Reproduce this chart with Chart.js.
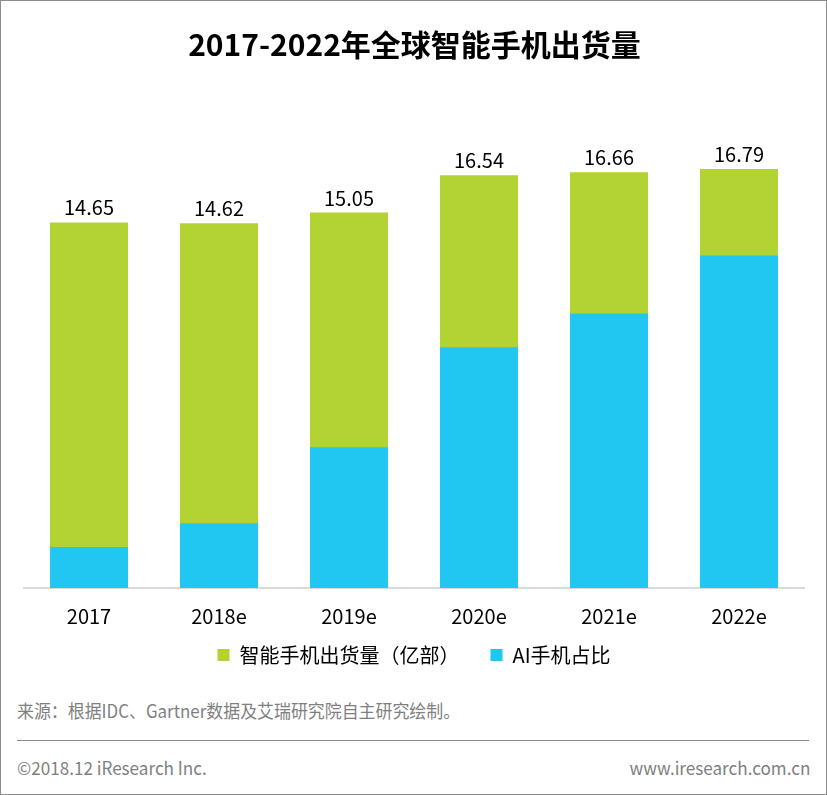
<!DOCTYPE html>
<html>
<head>
<meta charset="utf-8">
<script src="https://cdn.jsdelivr.net/npm/chart.js@4/dist/chart.umd.min.js"></script>
<style>
  html, body { margin: 0; padding: 0; background: #fff; }
  #frame { position: relative; width: 827px; height: 795px; box-sizing: border-box; border: 1px solid #8c8c8c; overflow: hidden; font-family: "Noto Sans CJK SC", "Noto Sans", sans-serif; }
  #title { position: absolute; left: 0; top: 20px; width: 827px; text-align: center; font-size: 30px; font-weight: bold; color: #000; }
  #chartWrap { position: absolute; left: 0; top: 0; width: 827px; height: 674px; }
  .foot { position: absolute; color: #7f7f7f; white-space: nowrap; font-size: 18px; transform-origin: left center; }
  #source { left: 16px; top: 696px; transform: scaleX(0.94); }
  #rule { position: absolute; left: 16px; top: 739px; width: 792px; height: 0; border-top: 1px solid #8c8c8c; }
  #copy { left: 16px; top: 753px; transform: scaleX(0.95); }
  #site { right: 16px; top: 753px; transform: scaleX(0.95); transform-origin: right center; }
</style>
</head>
<body>
<div id="frame">
  <div id="chartWrap"><canvas id="c" width="827" height="674"></canvas></div>
  <div id="title">2017-2022年全球智能手机出货量</div>
  <div id="source" class="foot">来源：根据IDC、Gartner数据及艾瑞研究院自主研究绘制。</div>
  <div id="rule"></div>
  <div id="copy" class="foot">©2018.12 iResearch Inc.</div>
  <div id="site" class="foot">www.iresearch.com.cn</div>
</div>
<script>
const categories = ["2017", "2018e", "2019e", "2020e", "2021e", "2022e"];
const shipments = [14.65, 14.62, 15.05, 16.54, 16.66, 16.79];
const aiPhones = [1.64, 2.6, 5.64, 9.65, 11.0, 13.33];
const seriesNames = ["智能手机出货量（亿部）", "AI手机占比"];
const labelTexts = ["14.65", "14.62", "15.05", "16.54", "16.66", "16.79"];

const FONT = '"Noto Sans CJK SC", "Noto Sans", sans-serif';

const topLabels = {
  id: 'topLabels',
  afterDatasetsDraw(chart) {
    const ctx = chart.ctx;
    const meta = chart.getDatasetMeta(1);
    ctx.save();
    ctx.font = '20px ' + FONT;
    ctx.fillStyle = '#000';
    ctx.textAlign = 'center';
    ctx.textBaseline = 'alphabetic';
    meta.data.forEach((el, i) => {
      ctx.fillText(labelTexts[i], el.x, el.y - 7);
    });
    ctx.restore();
  }
};

new Chart(document.getElementById('c'), {
  type: 'bar',
  data: {
    labels: categories,
    datasets: [
      { label: seriesNames[1], data: aiPhones, backgroundColor: '#21C7F1', barPercentage: 0.6, categoryPercentage: 1.0 },
      { label: seriesNames[0], data: shipments, backgroundColor: '#B3D335', barPercentage: 0.6, categoryPercentage: 1.0 }
    ]
  },
  options: {
    responsive: false,
    animation: false,
    layout: { padding: { left: 23, right: 24, top: 88, bottom: 0 } },
    scales: {
      x: {
        stacked: true,
        grid: { display: false, drawTicks: false },
        border: { display: true, color: '#d9d9d9', width: 2 },
        ticks: { color: '#000', font: { family: FONT, size: 20, lineHeight: 1 }, padding: 18 }
      },
      y: {
        stacked: false,
        display: false,
        min: 0,
        max: 20
      }
    },
    plugins: {
      title: { display: false },
      tooltip: { enabled: false },
      legend: {
        position: 'bottom',
        reverse: true,
        labels: {
          color: '#000',
          font: { family: FONT, size: 20, lineHeight: 1 },
          boxWidth: 12,
          boxHeight: 12,
          padding: 1,
          generateLabels(chart) {
            const items = Chart.defaults.plugins.legend.labels.generateLabels(chart);
            items.forEach(it => { if (it.datasetIndex === 1) it.text = it.text + '\u3000\u3000'; });
            return items;
          }
        }
      }
    }
  },
  plugins: [topLabels]
});
</script>
</body>
</html>
